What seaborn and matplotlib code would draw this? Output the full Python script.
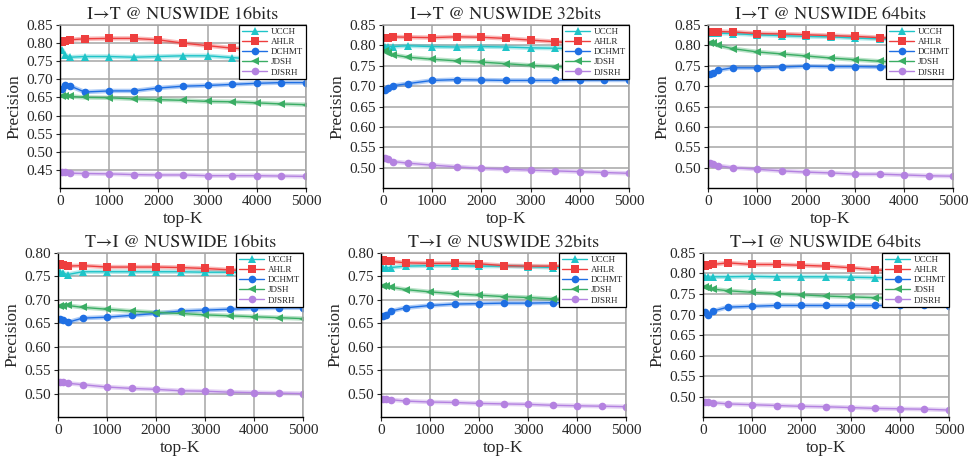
import matplotlib
matplotlib.use("Agg")
import matplotlib.pyplot as plt
import seaborn as sns
import pandas as pd

sns.set_style("white")
plt.rcParams['font.family'] = ['Liberation Serif', 'STIXGeneral', 'DejaVu Serif']

top_k = [50, 100, 200, 500, 1000, 1500, 2000, 2500, 3000, 3500, 4000, 4500, 5000]
methods = ["UCCH", "AHLR", "DCHMT", "JDSH", "DJSRH"]
colors = {"UCCH": "#1fc4c8", "AHLR": "#ee3e3e", "DCHMT": "#1f6fe3",
          "JDSH": "#3aad64", "DJSRH": "#b482e0"}
markers = {"UCCH": "^", "AHLR": "s", "DCHMT": "o", "JDSH": "<", "DJSRH": "o"}

titles = ["I→T @ NUSWIDE 16bits", "I→T @ NUSWIDE 32bits", "I→T @ NUSWIDE 64bits",
          "T→I @ NUSWIDE 16bits", "T→I @ NUSWIDE 32bits", "T→I @ NUSWIDE 64bits"]

# I->T 16 bits
i2t16_ucch = [0.781, 0.768, 0.761, 0.763, 0.763, 0.761, 0.763, 0.765, 0.765, 0.760, 0.755, 0.752, 0.749]
i2t16_ahlr = [0.803, 0.805, 0.809, 0.812, 0.813, 0.813, 0.809, 0.800, 0.793, 0.786, 0.783, 0.780, 0.779]
i2t16_dchmt = [0.673, 0.685, 0.682, 0.665, 0.668, 0.668, 0.676, 0.681, 0.683, 0.686, 0.689, 0.691, 0.691]
i2t16_jdsh = [0.654, 0.654, 0.653, 0.650, 0.649, 0.646, 0.644, 0.642, 0.639, 0.638, 0.635, 0.632, 0.630]
i2t16_djsrh = [0.444, 0.443, 0.441, 0.440, 0.439, 0.437, 0.436, 0.436, 0.434, 0.434, 0.434, 0.433, 0.432]

# I->T 32 bits
i2t32_ucch = [0.797, 0.797, 0.797, 0.799, 0.797, 0.796, 0.797, 0.796, 0.794, 0.793, 0.792, 0.791, 0.790]
i2t32_ahlr = [0.817, 0.818, 0.821, 0.820, 0.819, 0.821, 0.820, 0.817, 0.813, 0.809, 0.805, 0.800, 0.793]
i2t32_dchmt = [0.691, 0.695, 0.701, 0.706, 0.714, 0.716, 0.715, 0.714, 0.714, 0.714, 0.715, 0.715, 0.715]
i2t32_jdsh = [0.785, 0.781, 0.777, 0.771, 0.766, 0.762, 0.759, 0.755, 0.751, 0.748, 0.746, 0.743, 0.740]
i2t32_djsrh = [0.523, 0.520, 0.515, 0.511, 0.506, 0.502, 0.498, 0.496, 0.494, 0.492, 0.490, 0.488, 0.486]

# I->T 64 bits
i2t64_ucch = [0.831, 0.831, 0.830, 0.829, 0.826, 0.824, 0.822, 0.821, 0.818, 0.816, 0.815, 0.813, 0.811]
i2t64_ahlr = [0.832, 0.833, 0.834, 0.833, 0.829, 0.828, 0.826, 0.824, 0.822, 0.819, 0.816, 0.813, 0.812]
i2t64_dchmt = [0.729, 0.733, 0.739, 0.745, 0.745, 0.747, 0.749, 0.748, 0.748, 0.747, 0.747, 0.747, 0.747]
i2t64_jdsh = [0.806, 0.806, 0.800, 0.792, 0.784, 0.779, 0.774, 0.769, 0.765, 0.761, 0.758, 0.754, 0.750]
i2t64_djsrh = [0.512, 0.509, 0.505, 0.500, 0.496, 0.492, 0.489, 0.487, 0.484, 0.484, 0.482, 0.480, 0.479]

# T->I 16 bits
t2i16_ucch = [0.759, 0.757, 0.754, 0.760, 0.760, 0.760, 0.760, 0.760, 0.759, 0.759, 0.758, 0.758, 0.757]
t2i16_ahlr = [0.777, 0.774, 0.772, 0.773, 0.770, 0.770, 0.770, 0.769, 0.767, 0.764, 0.762, 0.760, 0.757]
t2i16_dchmt = [0.659, 0.656, 0.652, 0.661, 0.663, 0.667, 0.671, 0.676, 0.678, 0.680, 0.682, 0.683, 0.683]
t2i16_jdsh = [0.686, 0.686, 0.688, 0.684, 0.680, 0.676, 0.673, 0.671, 0.668, 0.666, 0.664, 0.662, 0.660]
t2i16_djsrh = [0.525, 0.524, 0.522, 0.519, 0.514, 0.511, 0.509, 0.506, 0.505, 0.503, 0.502, 0.501, 0.500]

# T->I 32 bits
t2i32_ucch = [0.768, 0.768, 0.769, 0.772, 0.773, 0.773, 0.772, 0.772, 0.771, 0.769, 0.769, 0.768, 0.768]
t2i32_ahlr = [0.784, 0.783, 0.782, 0.779, 0.778, 0.778, 0.777, 0.773, 0.772, 0.772, 0.771, 0.770, 0.768]
t2i32_dchmt = [0.666, 0.667, 0.676, 0.683, 0.688, 0.691, 0.692, 0.693, 0.693, 0.694, 0.694, 0.694, 0.694]
t2i32_jdsh = [0.730, 0.729, 0.727, 0.722, 0.717, 0.713, 0.710, 0.707, 0.705, 0.702, 0.700, 0.699, 0.697]
t2i32_djsrh = [0.489, 0.489, 0.487, 0.484, 0.482, 0.481, 0.479, 0.478, 0.477, 0.475, 0.474, 0.473, 0.472]

# T->I 64 bits
t2i64_ucch = [0.791, 0.791, 0.792, 0.792, 0.793, 0.792, 0.792, 0.792, 0.791, 0.790, 0.789, 0.788, 0.787]
t2i64_ahlr = [0.818, 0.820, 0.822, 0.826, 0.822, 0.822, 0.820, 0.818, 0.814, 0.809, 0.805, 0.800, 0.793]
t2i64_dchmt = [0.706, 0.700, 0.708, 0.718, 0.720, 0.722, 0.722, 0.722, 0.722, 0.722, 0.722, 0.722, 0.721]
t2i64_jdsh = [0.767, 0.765, 0.762, 0.758, 0.754, 0.751, 0.748, 0.745, 0.743, 0.741, 0.739, 0.737, 0.733]
t2i64_djsrh = [0.487, 0.486, 0.485, 0.482, 0.480, 0.478, 0.476, 0.475, 0.473, 0.471, 0.470, 0.469, 0.467]

panels = [
    [i2t16_ucch, i2t16_ahlr, i2t16_dchmt, i2t16_jdsh, i2t16_djsrh],
    [i2t32_ucch, i2t32_ahlr, i2t32_dchmt, i2t32_jdsh, i2t32_djsrh],
    [i2t64_ucch, i2t64_ahlr, i2t64_dchmt, i2t64_jdsh, i2t64_djsrh],
    [t2i16_ucch, t2i16_ahlr, t2i16_dchmt, t2i16_jdsh, t2i16_djsrh],
    [t2i32_ucch, t2i32_ahlr, t2i32_dchmt, t2i32_jdsh, t2i32_djsrh],
    [t2i64_ucch, t2i64_ahlr, t2i64_dchmt, t2i64_jdsh, t2i64_djsrh],
]
ylims = [(0.40, 0.85), (0.45, 0.85), (0.45, 0.85), (0.45, 0.80), (0.45, 0.80), (0.45, 0.85)]
yticks = [[0.45, 0.50, 0.55, 0.60, 0.65, 0.70, 0.75, 0.80, 0.85],
          [0.50, 0.55, 0.60, 0.65, 0.70, 0.75, 0.80, 0.85],
          [0.50, 0.55, 0.60, 0.65, 0.70, 0.75, 0.80, 0.85],
          [0.50, 0.55, 0.60, 0.65, 0.70, 0.75, 0.80],
          [0.50, 0.55, 0.60, 0.65, 0.70, 0.75, 0.80],
          [0.50, 0.55, 0.60, 0.65, 0.70, 0.75, 0.80, 0.85]]

W, H = 972, 459
boxes = [(60, 25, 306, 188), (383, 25, 629, 188), (708, 25, 953, 188),
         (58, 253, 303, 417), (381, 253, 626, 417), (703, 253, 949, 417)]

fig = plt.figure(figsize=(9.72, 4.59), dpi=100)
for i, (vals, (x0, y0, x1, y1)) in enumerate(zip(panels, boxes)):
    ax = fig.add_axes([x0 / W, 1 - y1 / H, (x1 - x0) / W, (y1 - y0) / H])
    rows = []
    for m, v in zip(methods, vals):
        for k, p in zip(top_k, v):
            rows.append({"top-K": k, "Precision": p, "Method": m})
    df = pd.DataFrame(rows)
    # soft halo under each line
    sns.lineplot(data=df, x="top-K", y="Precision", hue="Method", palette=colors,
                 hue_order=methods, linewidth=3.2, alpha=0.35, legend=False, ax=ax)
    sns.lineplot(data=df, x="top-K", y="Precision", hue="Method", style="Method",
                 palette=colors, hue_order=methods, style_order=methods,
                 markers=markers, dashes=False, linewidth=1.0, markersize=5.5,
                 markeredgewidth=0, ax=ax)
    ax.set_xlim(0, 5000)
    ax.set_ylim(*ylims[i])
    ax.set_xticks([0, 1000, 2000, 3000, 4000, 5000])
    ax.set_yticks(yticks[i])
    ax.set_yticklabels([f"{t:.2f}" for t in yticks[i]])
    ax.grid(True, color="#a6a6a6", linewidth=1.1)
    ax.set_axisbelow(True)
    for s in ["top", "right"]:
        ax.spines[s].set_color("#a6a6a6")
        ax.spines[s].set_linewidth(1.1)
    for s in ["left", "bottom"]:
        ax.spines[s].set_color("black")
        ax.spines[s].set_linewidth(1.0)
    ax.tick_params(axis="both", labelsize=11, length=3, width=0.8, direction="out",
                   left=True, bottom=True, pad=2)
    ax.set_title(titles[i], fontsize=13, pad=4, family=['STIXGeneral', 'Liberation Serif'])
    ax.set_xlabel("top-K", fontsize=12.5, labelpad=2)
    ax.set_ylabel("Precision", fontsize=12.5, labelpad=3)
    leg = ax.legend(loc="upper right", fontsize=6.5, frameon=True, fancybox=False,
                    framealpha=1, edgecolor="black", borderaxespad=0.0,
                    handlelength=2.8, labelspacing=0.2, borderpad=0.3,
                    handletextpad=0.4)
    leg.get_frame().set_linewidth(0.9)

fig.savefig("out.png", dpi=100)
